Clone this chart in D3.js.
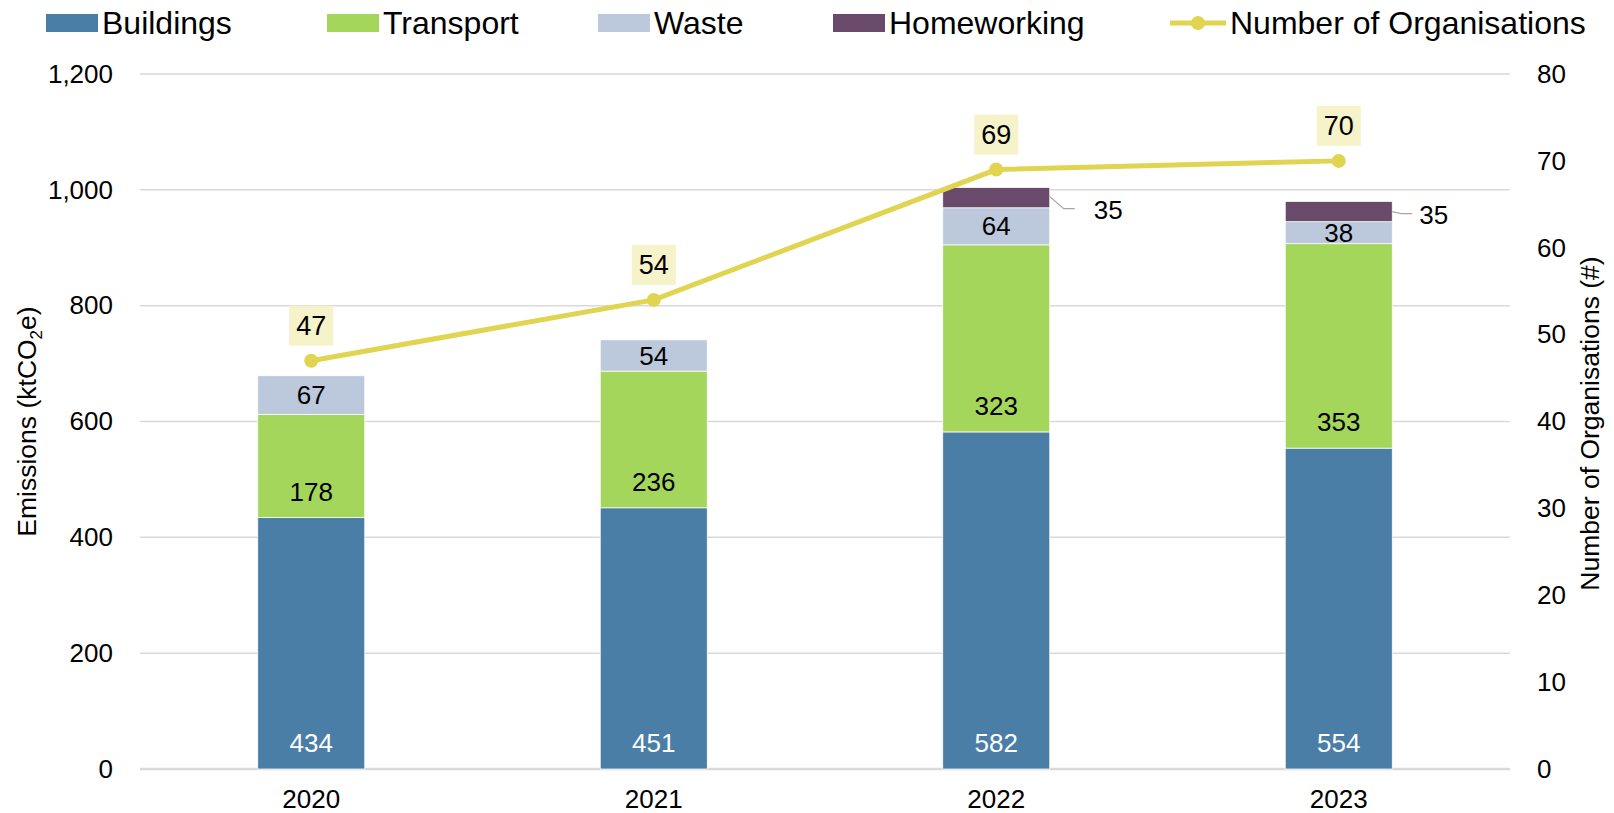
<!DOCTYPE html>
<html>
<head>
<meta charset="utf-8">
<script src="https://cdn.jsdelivr.net/npm/d3@7"></script>
<style>
    body { margin: 0; background: #fff; }
    text { font-family: "Liberation Sans", Arial, sans-serif; fill: #000; }
</style>
</head>
<body>
<div class="chart"></div>
<script>
var years = ["2020", "2021", "2022", "2023"];
var buildings = [434, 451, 582, 554];
var transport = [178, 236, 323, 353];
var waste = [67, 54, 64, 38];
var homeworking = [0, 0, 35, 35];
var organisations = [47, 54, 69, 70];

var seriesNames = ["Buildings", "Transport", "Waste", "Homeworking"];
var seriesColors = ["#4a7ea7", "#a5d65c", "#bcc8db", "#6a4a6a"];
var lineName = "Number of Organisations";
var lineColor = "#e0d451";
var leftTicks = [0, 200, 400, 600, 800, 1000, 1200];
var rightTicks = [0, 10, 20, 30, 40, 50, 60, 70, 80];

var widthBase = 1614;
var heightBase = 813;
var plot = { left: 140, right: 1510, top: 74, bottom: 769 };

var svg = d3.select(".chart")
    .append("svg")
        .attr("width", widthBase)
        .attr("height", heightBase);

var x = d3.scaleBand()
    .domain(years)
    .range([plot.left, plot.right])
    .paddingInner(0.6876)
    .paddingOuter(0.3438);

var y = d3.scaleLinear()
    .domain([0, 1200])
    .range([plot.bottom, plot.top]);

var y2 = d3.scaleLinear()
    .domain([0, 80])
    .range([plot.bottom, plot.top]);

// gridlines
svg.append("g")
    .selectAll("line")
    .data(leftTicks)
    .join("line")
        .attr("x1", plot.left)
        .attr("x2", plot.right)
        .attr("y1", function(d) { return y(d); })
        .attr("y2", function(d) { return y(d); })
        .attr("stroke", "#d9d9d9")
        .attr("stroke-width", function(d) { return d === 0 ? 2.5 : 1.5; });

// left axis
var leftAxis = svg.append("g")
    .attr("transform", "translate(" + (plot.left - 27) + ",0)")
    .call(d3.axisLeft(y).tickValues(leftTicks).tickFormat(d3.format(",")).tickSize(0).tickPadding(0));
leftAxis.select(".domain").remove();
leftAxis.selectAll("text").style("font-size", "26px").attr("fill", "#000");

// right axis
var rightAxis = svg.append("g")
    .attr("transform", "translate(" + (plot.right + 27) + ",0)")
    .call(d3.axisRight(y2).tickValues(rightTicks).tickSize(0).tickPadding(0));
rightAxis.select(".domain").remove();
rightAxis.selectAll("text").style("font-size", "26px").attr("fill", "#000");

// bottom axis
var bottomAxis = svg.append("g")
    .attr("transform", "translate(0," + plot.bottom + ")")
    .call(d3.axisBottom(x).tickSize(0).tickPadding(21));
bottomAxis.select(".domain").remove();
bottomAxis.selectAll("text").style("font-size", "26px").attr("fill", "#000");

// axis titles
var leftTitle = svg.append("text")
    .attr("transform", "translate(36," + ((plot.top + plot.bottom) / 2) + ") rotate(-90)")
    .attr("text-anchor", "middle")
    .style("font-size", "26.5px");
leftTitle.append("tspan").text("Emissions (ktCO");
leftTitle.append("tspan").attr("dy", 6).style("font-size", "17px").text("2");
leftTitle.append("tspan").attr("dy", -6).text("e)");

svg.append("text")
    .attr("transform", "translate(1599," + ((plot.top + plot.bottom) / 2 + 2) + ") rotate(-90)")
    .attr("text-anchor", "middle")
    .style("font-size", "26.5px")
    .text("Number of Organisations (#)");

// stacked bars
var table = years.map(function(yr, i) {
    return { year: yr, Buildings: buildings[i], Transport: transport[i], Waste: waste[i], Homeworking: homeworking[i] };
});
var stacked = d3.stack().keys(seriesNames)(table);

var layers = svg.append("g")
    .selectAll("g")
    .data(stacked)
    .join("g")
        .attr("fill", function(d, i) { return seriesColors[i]; });

layers.selectAll("rect")
    .data(function(d) { return d; })
    .join("rect")
        .attr("x", function(d) { return x(d.data.year); })
        .attr("width", x.bandwidth())
        .attr("y", function(d) { return y(d[1]); })
        .attr("height", function(d) { return y(d[0]) - y(d[1]); })
        .attr("stroke", "#fff")
        .attr("stroke-width", 0.75);

// segment labels: Buildings & Transport inside base, Waste centred
stacked.forEach(function(layer, li) {
    var key = layer.key;
    layer.forEach(function(d, i) {
        var v = d[1] - d[0];
        if (!v) return;
        var cx = x(d.data.year) + x.bandwidth() / 2;
        if (key === "Homeworking") {
            var xr = x(d.data.year) + x.bandwidth();
            var ym = (y(d[0]) + y(d[1])) / 2;
            // leader lines placed like the original callouts
            var lead = i === 2 ? [[0, -1], [14, 11], [25, 11]] : [[0, 0], [9, 2], [20, 2]];
            var tx = i === 2 ? 44 : 27;
            svg.append("path")
                .attr("d", d3.line()(lead.map(function(p) { return [xr + p[0], ym + p[1]]; })))
                .attr("fill", "none")
                .attr("stroke", "#a6a6a6")
                .attr("stroke-width", 1.2);
            svg.append("text")
                .attr("x", xr + tx)
                .attr("y", ym + lead[2][1] + 1)
                .attr("dy", "0.35em")
                .style("font-size", "26px")
                .text(v);
            return;
        }
        var ty = key === "Waste" ? (y(d[0]) + y(d[1])) / 2 : y(d[0]) - 26;
        svg.append("text")
            .attr("x", cx)
            .attr("y", ty)
            .attr("dy", "0.35em")
            .attr("text-anchor", "middle")
            .style("font-size", "26px")
            .style("fill", key === "Buildings" ? "#fff" : "#000")
            .text(v);
    });
});

// organisations line
var line = d3.line()
    .x(function(d, i) { return x(years[i]) + x.bandwidth() / 2; })
    .y(function(d) { return y2(d); });

svg.append("path")
    .datum(organisations)
    .attr("d", line)
    .attr("fill", "none")
    .attr("stroke", lineColor)
    .attr("stroke-width", 5);

svg.append("g")
    .selectAll("circle")
    .data(organisations)
    .join("circle")
        .attr("cx", function(d, i) { return x(years[i]) + x.bandwidth() / 2; })
        .attr("cy", function(d) { return y2(d); })
        .attr("r", 7)
        .attr("fill", lineColor);

var lineLabels = svg.append("g")
    .selectAll("g")
    .data(organisations)
    .join("g")
        .attr("transform", function(d, i) {
            return "translate(" + (x(years[i]) + x.bandwidth() / 2) + "," + (y2(d) - 35) + ")";
        });
lineLabels.append("rect")
    .attr("x", -22)
    .attr("y", -20)
    .attr("width", 44)
    .attr("height", 40)
    .attr("fill", "#f6f2c9");
lineLabels.append("text")
    .attr("text-anchor", "middle")
    .attr("dy", "0.35em")
    .style("font-size", "27px")
    .text(function(d) { return d; });

// legend
var legendX = [46, 327, 598, 833];
var legend = svg.append("g");
seriesNames.forEach(function(name, i) {
    legend.append("rect")
        .attr("x", legendX[i])
        .attr("y", 14)
        .attr("width", 52)
        .attr("height", 18)
        .attr("fill", seriesColors[i]);
    legend.append("text")
        .attr("x", legendX[i] + 56)
        .attr("y", 23)
        .attr("dy", "0.35em")
        .style("font-size", "32px")
        .text(name);
});
legend.append("line")
    .attr("x1", 1170).attr("x2", 1226)
    .attr("y1", 23).attr("y2", 23)
    .attr("stroke", lineColor)
    .attr("stroke-width", 5);
legend.append("circle")
    .attr("cx", 1198).attr("cy", 23).attr("r", 7)
    .attr("fill", lineColor);
legend.append("text")
    .attr("x", 1230)
    .attr("y", 23)
    .attr("dy", "0.35em")
    .style("font-size", "32px")
    .text(lineName);
</script>
</body>
</html>
